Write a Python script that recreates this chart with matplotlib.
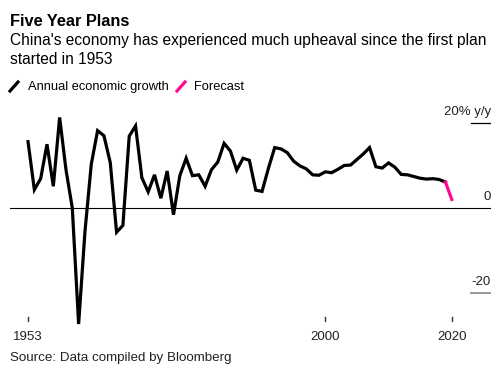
import matplotlib
matplotlib.use("Agg")
import matplotlib.pyplot as plt
import matplotlib.transforms as mtransforms

# annual real GDP growth, % y/y
years = list(range(1953, 2020))
growth = [15.6, 4.3, 6.9, 15.0, 5.1, 21.3, 9.0, 0.0, -27.3, -5.6,
          10.3, 18.2, 17.0, 10.7, -5.7, -4.1, 16.9, 19.3, 7.1, 3.8,
          7.8, 2.3, 8.7, -1.6, 7.6, 11.7, 7.6, 7.8, 5.1, 9.0,
          10.8, 15.2, 13.4, 8.9, 11.7, 11.2, 4.2, 3.9, 9.3, 14.2,
          13.9, 13.0, 11.0, 9.9, 9.2, 7.8, 7.7, 8.5, 8.3, 9.1,
          10.0, 10.1, 11.4, 12.7, 14.2, 9.7, 9.4, 10.6, 9.6, 7.9,
          7.8, 7.4, 7.0, 6.8, 6.9, 6.7, 6.1]
fc_years = [2019, 2020]
fc_growth = [6.1, 2.0]

tick_years = [1953, 2000, 2020]
y_labels = {20: "20% y/y", 0: "0", -20: "-20"}

BLACK = "#000000"
PINK = "#ff0a93"

plt.rcParams["font.family"] = ["Liberation Sans", "DejaVu Sans"]

W, H = 503, 388
fig = plt.figure(figsize=(W / 100, H / 100), dpi=100)

# axes placed in pixel terms: left 10, right 491, top 100, bottom 330
ax = fig.add_axes([10 / W, 1 - 330 / H, 481 / W, 230 / H])
ax.set_xlim(1950.15, 2026.2)
ax.set_ylim(-28.7, 25.4)
for s in ax.spines.values():
    s.set_visible(False)
ax.set_xticks([]); ax.set_yticks([])
ax.patch.set_alpha(0)

# gridlines: full zero line, short stubs on the right for +/-20
ax.axhline(0, color=BLACK, lw=0.8, zorder=1)
ax.axhline(20, xmin=0.958, xmax=1, color=BLACK, lw=0.9)
ax.axhline(-20, xmin=0.958, xmax=1, color="#999999", lw=1.4)
for v, lab in y_labels.items():
    ax.annotate(lab, xy=(1, v), xycoords=("axes fraction", "data"),
                xytext=(0, 3.5), textcoords="offset points",
                ha="right", va="bottom", fontsize=9.5, color="#222222")

ax.plot(years, growth, color=BLACK, lw=2.3, solid_joinstyle="miter", zorder=3)
ax.plot(fc_years, fc_growth, color=PINK, lw=2.3, zorder=3)

# x ticks drawn by hand, just above the labels
trans = mtransforms.blended_transform_factory(ax.transData, fig.transFigure)
for yr in tick_years:
    ax.plot([yr, yr], [1 - 317 / H, 1 - 321 / H], transform=trans, color="#333333",
            lw=1.0, clip_on=False)
    ax.text(yr, 1 - 337 / H, str(yr), transform=trans, ha="center", va="center",
            fontsize=9.5, color="#222222")

# header
fig.text(10 / W, 1 - 22 / H, "Five Year Plans", fontsize=11.8, fontweight="bold",
         va="center", ha="left")
fig.text(10 / W, 1 - 41 / H, "China's economy has experienced much upheaval since the first plan",
         fontsize=11.2, va="center", ha="left")
fig.text(10 / W, 1 - 60 / H, "started in 1953", fontsize=11.2, va="center", ha="left")

# legend
fig.lines.append(plt.Line2D([10 / W, 18 / W], [1 - 91 / H, 1 - 82 / H], color=BLACK,
                            lw=2.3, transform=fig.transFigure))
fig.text(28 / W, 1 - 87 / H, "Annual economic growth", fontsize=9.3, va="center")
fig.lines.append(plt.Line2D([177 / W, 185 / W], [1 - 91 / H, 1 - 82 / H], color=PINK,
                            lw=2.3, transform=fig.transFigure))
fig.text(194 / W, 1 - 87 / H, "Forecast", fontsize=9.3, va="center")

fig.text(10 / W, 1 - 358 / H, "Source: Data compiled by Bloomberg", fontsize=9.6,
         va="center", color="#222222")

fig.savefig("out.png", dpi=100)
